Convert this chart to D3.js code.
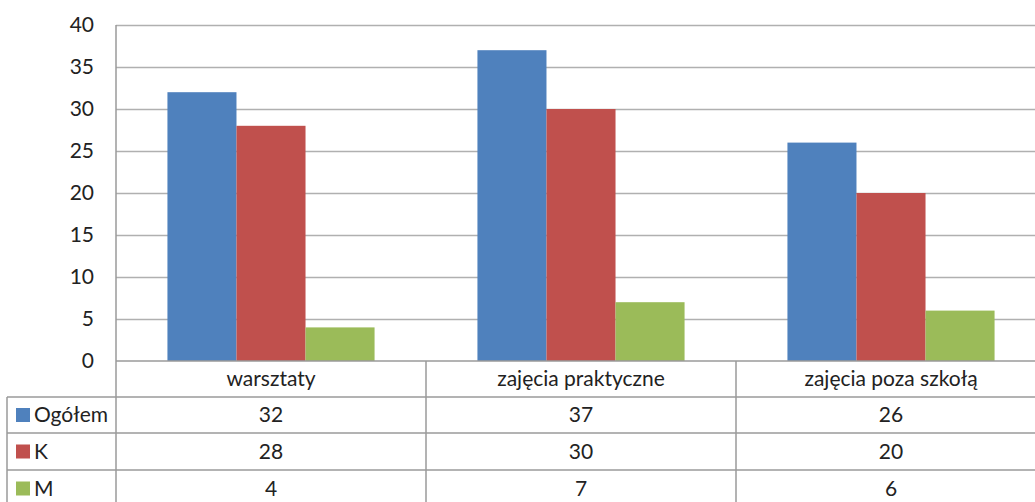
<!DOCTYPE html>
<html><head><meta charset="utf-8">
<script src="https://cdn.jsdelivr.net/npm/d3@7"></script>
<style>body{margin:0;background:#fff}svg{display:block}</style>
</head><body>
<svg id="c" width="1035" height="502"></svg>
<script>
const categories = ["warsztaty", "zajęcia praktyczne", "zajęcia poza szkołą"];
const seriesNames = ["Ogółem", "K", "M"];
const ogolem = [32, 37, 26];
const kobiety = [28, 30, 20];
const mezczyzni = [4, 7, 6];
const yTicks = [0, 5, 10, 15, 20, 25, 30, 35, 40];
const colors = ["#4f81bd", "#c0504d", "#9bbb59"];
const seriesValues = [ogolem, kobiety, mezczyzni];

(function () {
const svg = d3.select("#c");
const FONT = "Lato, 'Open Sans', sans-serif";
const FS = 21;
const pLeft = 116, pRight = 1046, pTop = 25, pBottom = 361;
const tableLeft = 7;
const rowH = [36, 36, 37, 37];

const x0 = d3.scaleBand().domain(categories).range([pLeft, pRight]).paddingInner(0).paddingOuter(0);
const x1 = d3.scaleBand().domain(seriesNames).range([0, x0.bandwidth()]).paddingInner(0).paddingOuter(0.745);
const y = d3.scaleLinear().domain([0, 40]).range([pBottom, pTop]);

svg.append("g").selectAll("line").data(yTicks.filter(d => d > 0)).join("line")
  .attr("x1", pLeft).attr("x2", pRight).attr("y1", d => Math.round(y(d)) + 0.5).attr("y2", d => Math.round(y(d)) + 0.5)
  .attr("stroke", "#b0b0b0").attr("stroke-width", 1.5);

const yAxis = d3.axisLeft(y).tickValues(yTicks).tickSize(0).tickPadding(22);
const ga = svg.append("g").attr("transform", `translate(${pLeft},0)`).call(yAxis);
ga.select(".domain").remove();
ga.selectAll("text").attr("font-family", FONT).attr("font-size", FS).attr("fill", "#222");

const data = [];
categories.forEach((c, i) => seriesNames.forEach((s, j) => data.push({c, s, v: seriesValues[j][i], j})));
svg.append("g").selectAll("rect").data(data).join("rect")
  .attr("x", d => x0(d.c) + x1(d.s)).attr("width", x1.bandwidth())
  .attr("y", d => y(d.v)).attr("height", d => y(0) - y(d.v))
  .attr("fill", d => colors[d.j]);

const lineColor = "#9a9a9a";
const g = svg.append("g").attr("stroke", lineColor).attr("stroke-width", 1.5);
const rowY = [pBottom];
rowH.forEach(h => rowY.push(rowY[rowY.length - 1] + h));
g.append("line").attr("x1", pLeft).attr("x2", pRight).attr("y1", pBottom).attr("y2", pBottom);
[1, 2, 3].forEach(k => g.append("line").attr("x1", tableLeft).attr("x2", pRight).attr("y1", rowY[k]).attr("y2", rowY[k]));
g.append("line").attr("x1", pLeft).attr("x2", pLeft).attr("y1", pTop).attr("y2", 502);
g.append("line").attr("x1", tableLeft).attr("x2", tableLeft).attr("y1", rowY[1]).attr("y2", 502);
categories.slice(1).forEach(c => g.append("line").attr("x1", x0(c)).attr("x2", x0(c)).attr("y1", pBottom).attr("y2", 502));

svg.append("g").selectAll("text").data(categories).join("text")
  .attr("x", d => x0(d) + x0.bandwidth() / 2).attr("y", (rowY[0] + rowY[1]) / 2)
  .attr("dy", "0.35em").attr("text-anchor", "middle")
  .attr("font-family", FONT).attr("font-size", FS).attr("fill", "#222").text(d => d);

seriesNames.forEach((s, j) => {
  const cy = (rowY[j + 1] + rowY[j + 2]) / 2;
  svg.append("rect").attr("x", 16).attr("y", cy - 7).attr("width", 14).attr("height", 14).attr("fill", colors[j]);
  svg.append("text").attr("x", 34).attr("y", cy).attr("dy", "0.35em")
    .attr("font-family", FONT).attr("font-size", FS).attr("fill", "#222").text(s);
  svg.append("g").selectAll("text").data(categories).join("text")
    .attr("x", d => x0(d) + x0.bandwidth() / 2).attr("y", cy).attr("dy", "0.35em").attr("text-anchor", "middle")
    .attr("font-family", FONT).attr("font-size", FS).attr("fill", "#222")
    .text((d, i) => seriesValues[j][i]);
});
})();
</script>
</body></html>
